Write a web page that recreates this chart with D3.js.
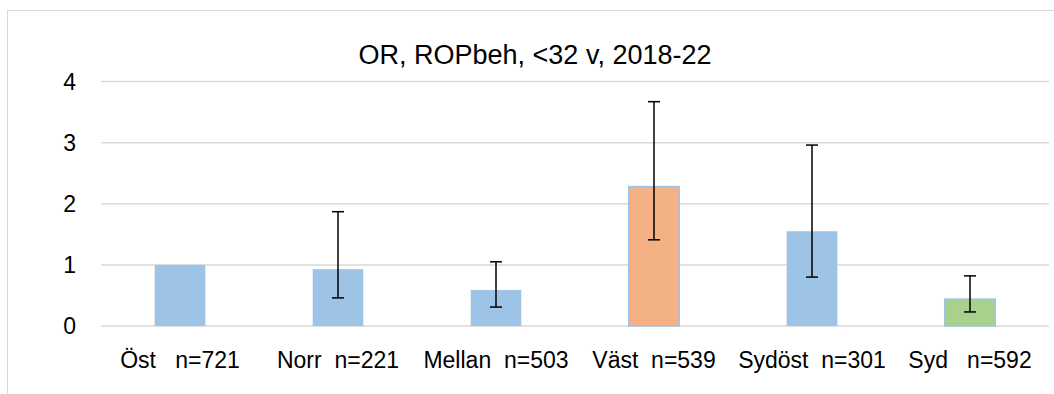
<!DOCTYPE html>
<html>
<head>
<meta charset="utf-8">
<script src="https://cdn.jsdelivr.net/npm/d3@7"></script>
<style>
  body { margin: 0; background: white; }
</style>
</head>
<body>
<div id="container"></div>
<script>
let w = 1054;
let h = 394;

// data
let regions = ["Öst", "Norr", "Mellan", "Väst", "Sydöst", "Syd"];
let counts = [721, 221, 503, 539, 301, 592];
let gaps = ["   ", "  ", "  ", "  ", "  ", "   "];
let oddsRatio = [1.0, 0.93, 0.59, 2.28, 1.55, 0.44];
let ciLow = [null, 0.46, 0.31, 1.41, 0.80, 0.23];
let ciHigh = [null, 1.87, 1.05, 3.67, 2.96, 0.82];
let barColors = ["#9dc3e6", "#9dc3e6", "#9dc3e6", "#f4b183", "#9dc3e6", "#a9d18e"];
let yTicks = [0, 1, 2, 3, 4];

let labels = regions.map((r, i) => r + gaps[i] + "n=" + counts[i]);

let viz = d3.select("#container")
  .append("svg")
    .attr("width", w)
    .attr("height", h)
    .style("font-family", "Liberation Sans, Arial, sans-serif")
;

// chart frame
viz.append("rect")
    .attr("x", 7.5)
    .attr("y", 10.5)
    .attr("width", w + 20)
    .attr("height", h + 20)
    .attr("fill", "none")
    .style("stroke", "#d9d9d9")
    .style("stroke-width", 1)
;

let x = d3.scaleBand()
  .domain(labels)
  .range([101, 1049])
  .paddingInner(0.68)
  .paddingOuter(0.34);

let y = d3.scaleLinear()
  .domain([0, 4])
  .range([326, 81.5]);

viz.append("text")
    .text("OR, ROPbeh, <32 v, 2018-22")
    .attr("x", 535)
    .attr("y", 64)
    .attr("text-anchor", "middle")
    .attr("fill", "#000")
    .style("font-size", "27px")
;

// gridlines
viz.append("g")
  .selectAll("line")
  .data(yTicks)
  .join("line")
    .attr("x1", 101)
    .attr("x2", 1049)
    .attr("y1", d => y(d))
    .attr("y2", d => y(d))
    .style("stroke", "#d9d9d9")
    .style("stroke-width", 1.5)
;

// y axis labels
viz.append("g")
  .selectAll("text")
  .data(yTicks)
  .join("text")
    .text(d => d)
    .attr("x", 76)
    .attr("y", d => y(d) + 8)
    .attr("text-anchor", "end")
    .attr("fill", "#000")
    .style("font-size", "23px")
;

// bars
viz.append("g")
  .selectAll("rect")
  .data(oddsRatio)
  .join("rect")
    .attr("x", (d, i) => x(labels[i]))
    .attr("y", d => y(d))
    .attr("width", x.bandwidth())
    .attr("height", d => y(0) - y(d))
    .attr("fill", (d, i) => barColors[i])
    .style("stroke", "#9dc3e6")
    .style("stroke-width", (d, i) => barColors[i] == "#9dc3e6" ? 0 : 1.5)
;

// error bars
let errIdx = d3.range(regions.length).filter(i => ciLow[i] != null);
let errGroup = viz.append("g")
  .selectAll("g")
  .data(errIdx)
  .join("g")
    .attr("transform", i => "translate(" + (x(labels[i]) + x.bandwidth() / 2) + ",0)");

errGroup.append("line")
    .attr("x1", 0).attr("x2", 0)
    .attr("y1", i => y(ciLow[i]))
    .attr("y2", i => y(ciHigh[i]))
    .style("stroke", "#000")
    .style("stroke-width", 1.5);

errGroup.append("line")
    .attr("x1", -6).attr("x2", 6)
    .attr("y1", i => y(ciLow[i]))
    .attr("y2", i => y(ciLow[i]))
    .style("stroke", "#000")
    .style("stroke-width", 1.5);

errGroup.append("line")
    .attr("x1", -6).attr("x2", 6)
    .attr("y1", i => y(ciHigh[i]))
    .attr("y2", i => y(ciHigh[i]))
    .style("stroke", "#000")
    .style("stroke-width", 1.5);

// category labels
viz.append("g")
  .selectAll("text")
  .data(labels)
  .join("text")
    .text(d => d)
    .attr("x", d => x(d) + x.bandwidth() / 2)
    .attr("y", 368)
    .attr("text-anchor", "middle")
    .attr("fill", "#000")
    .style("white-space", "pre")
    .style("font-size", "23px")
;
</script>
</body>
</html>
